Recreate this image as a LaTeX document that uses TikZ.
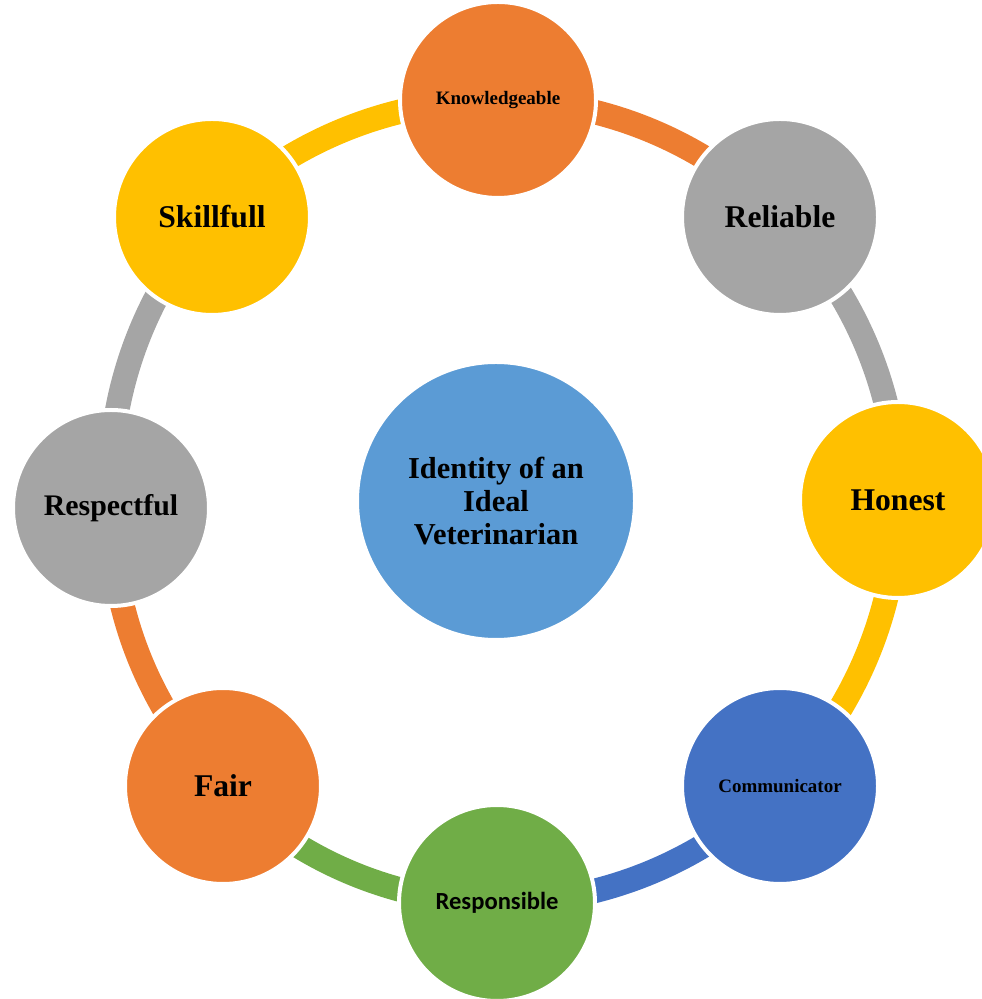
\documentclass[tikz,border=0pt]{standalone}
\usepackage{fontspec}
\setmainfont{Liberation Serif}
\newfontfamily\sanslabel{Carlito}
\usetikzlibrary{
    backgrounds % For putting the ring bands behind the circles
}
\definecolor{vorange}{HTML}{ED7D31}
\definecolor{vgray}{HTML}{A5A5A5}
\definecolor{vyellow}{HTML}{FFC000}
\definecolor{vblue}{HTML}{4472C4}
\definecolor{vgreen}{HTML}{70AD47}
\definecolor{vcentre}{HTML}{5B9BD5}

\begin{document}
\begin{tikzpicture}[
    font=\bfseries,
    trait/.style={
        circle,
        draw=white,
        line width=0.08cm,
        minimum size=3.92cm,
        inner sep=0pt,
        align=center
    },
    bigtext/.style={font=\bfseries\fontsize{18}{21}\selectfont},
    smalltext/.style={font=\bfseries\fontsize{10.8}{13}\selectfont},
    band/.style={line width=0.49cm, line cap=butt}
]
    \useasboundingbox (0,0) rectangle (19.64,19.98);

    % --- Central idea ---
    \node[trait, fill=vcentre, minimum size=5.56cm,
          font=\bfseries\fontsize{17.3}{18.7}\selectfont] (identity) at (9.92,9.96)
          {Identity of an\\Ideal\\Veterinarian};

    % --- Traits around the ring ---
    \node[trait, fill=vorange, smalltext] (know) at (9.96,17.98) {Knowledgeable};
    \node[trait, fill=vgray, bigtext] (reliable) at (15.60,15.64) {Reliable};
    \node[trait, fill=vyellow, bigtext] (honest) at (17.96,9.98) {Honest};
    \node[trait, fill=vblue, smalltext] (comm) at (15.60,4.26) {Communicator};
    \node[trait, fill=vgreen, font=\sanslabel\bfseries\fontsize{14}{16}\selectfont] (respons) at (9.94,1.92) {Responsible};
    \node[trait, fill=vorange, bigtext] (fair) at (4.46,4.26) {Fair};
    \node[trait, fill=vgray, font=\bfseries\fontsize{17}{20}\selectfont] (respect) at (2.22,9.82) {Respectful};
    \node[trait, fill=vyellow, bigtext] (skill) at (4.24,15.64) {Skillfull};

    % --- Ring bands between neighbours ---
    \begin{scope}[on background layer]
        \foreach \from/\to/\col in {know/reliable/vorange, reliable/honest/vgray,
                                    honest/comm/vyellow, comm/respons/vblue,
                                    respons/fair/vgreen, fair/respect/vorange,
                                    respect/skill/vgray, skill/know/vyellow} {
            \draw[band, \col] (\from.center) to[bend left=22.5, looseness=0.885] (\to.center);
        }
    \end{scope}

\end{tikzpicture}
\end{document}
